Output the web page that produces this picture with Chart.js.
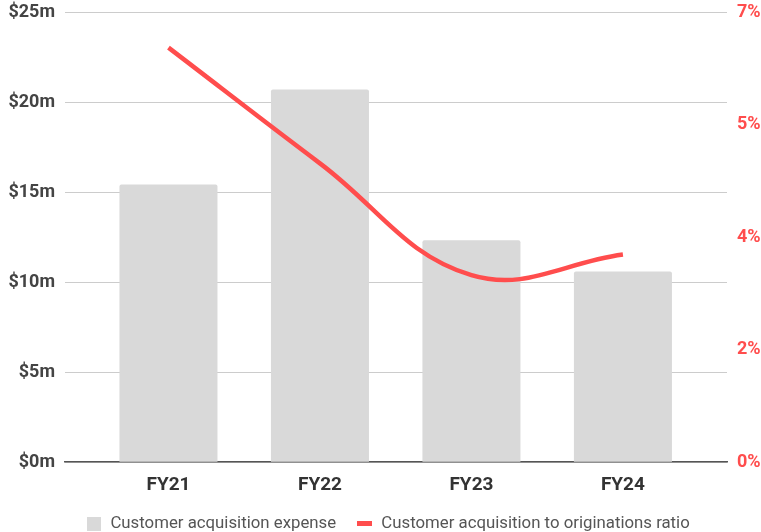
<!DOCTYPE html>
<html>
<head>
<meta charset="utf-8">
<script src="https://cdn.jsdelivr.net/npm/chart.js@4"></script>
<style>
    html, body { margin: 0; padding: 0; background: #fff; }
    #wrap { width: 761px; height: 532px; }
</style>
</head>
<body>
<div id="wrap"><canvas id="chart"></canvas></div>
<script>
const categories = ['FY21', 'FY22', 'FY23', 'FY24'];
const expenseMillions = [15.43, 20.71, 12.34, 10.6];
const ratioPercent = [6.45, 4.65, 2.91, 3.23];

const RED = '#ff4d4d';
const BAR_GRAY = '#d9d9d9';

function toPoints(values) {
    return values.map((v, i) => ({ x: i, y: v }));
}

// small legend markers: grey square and short red dash
function legendMarker(w, h, color) {
    const c = document.createElement('canvas');
    c.width = w;
    c.height = h;
    const g = c.getContext('2d');
    g.fillStyle = color;
    g.fillRect(0, 0, w, h);
    return c;
}

function fixWidth(width) {
    return (scale) => {
        scale.width = width;
        scale.paddingTop = 0;
        scale.paddingBottom = 0;
    };
}

// the legend in the original sits slightly right of centre
const legendNudge = {
    id: 'legendNudge',
    afterLayout(chart) {
        if (!chart.legend) return;
        chart.legend.left += 7;
        chart.legend.right += 7;
    },
};

const ctx = document.getElementById('chart').getContext('2d');
new Chart(ctx, {
    data: {
        datasets: [
            {
                type: 'line',
                label: 'Customer acquisition to originations ratio',
                data: toPoints(ratioPercent),
                yAxisID: 'y1',
                borderColor: RED,
                backgroundColor: RED,
                borderWidth: 4.5,
                pointRadius: 0,
                pointStyle: legendMarker(15, 5, RED),
                tension: 0.4,
                order: 0,
            },
            {
                type: 'bar',
                label: 'Customer acquisition expense',
                data: toPoints(expenseMillions),
                yAxisID: 'y',
                backgroundColor: BAR_GRAY,
                borderRadius: 2,
                borderSkipped: 'bottom',
                categoryPercentage: 1,
                barPercentage: 0.647,
                pointStyle: legendMarker(14, 14, BAR_GRAY),
                order: 1,
            },
        ],
    },
    plugins: [legendNudge],
    options: {
        responsive: true,
        maintainAspectRatio: false,
        animation: false,
        layout: { padding: { left: 0, right: 0, top: 12.3, bottom: -10.1 } },
        scales: {
            x: {
                type: 'linear',
                offset: false,
                min: -0.683,
                max: 3.687,
                afterBuildTicks: (scale) => {
                    scale.ticks = categories.map((_, i) => ({ value: i }));
                },
                afterFit: (scale) => {
                    scale.height = 33.1;
                    scale.paddingLeft = 0;
                    scale.paddingRight = 0;
                },
                ticks: {
                    callback: (v) => categories[v],
                    color: '#333',
                    font: { family: 'Roboto', size: 19, weight: 'bold' },
                    padding: 12,
                    autoSkip: false,
                    maxRotation: 0,
                },
                grid: { display: false, drawTicks: false },
                border: { display: true, color: '#555', width: 1.5 },
            },
            y: {
                position: 'left',
                min: 0,
                max: 25,
                afterFit: fixWidth(65),
                ticks: {
                    stepSize: 5,
                    callback: (v) => '$' + v + 'm',
                    color: '#444',
                    font: { family: 'Roboto', size: 18, weight: 'bold' },
                    padding: 10,
                },
                grid: { color: '#cccccc', drawTicks: false },
                border: { display: false },
            },
            y1: {
                position: 'right',
                min: 0,
                max: 7,
                afterFit: fixWidth(34),
                ticks: {
                    stepSize: 1.75,
                    callback: (v) => Math.round(v) + '%',
                    color: RED,
                    font: { family: 'Roboto', size: 18, weight: 'bold' },
                    padding: 10,
                },
                grid: { display: false, drawTicks: false },
                border: { display: false },
            },
        },
        plugins: {
            legend: {
                position: 'bottom',
                reverse: true,
                labels: {
                    usePointStyle: true,
                    boxHeight: 16,
                    color: '#555',
                    font: { family: 'Roboto', size: 16.8 },
                    padding: 20,
                },
            },
            tooltip: { enabled: false },
        },
    },
});
</script>
</body>
</html>
